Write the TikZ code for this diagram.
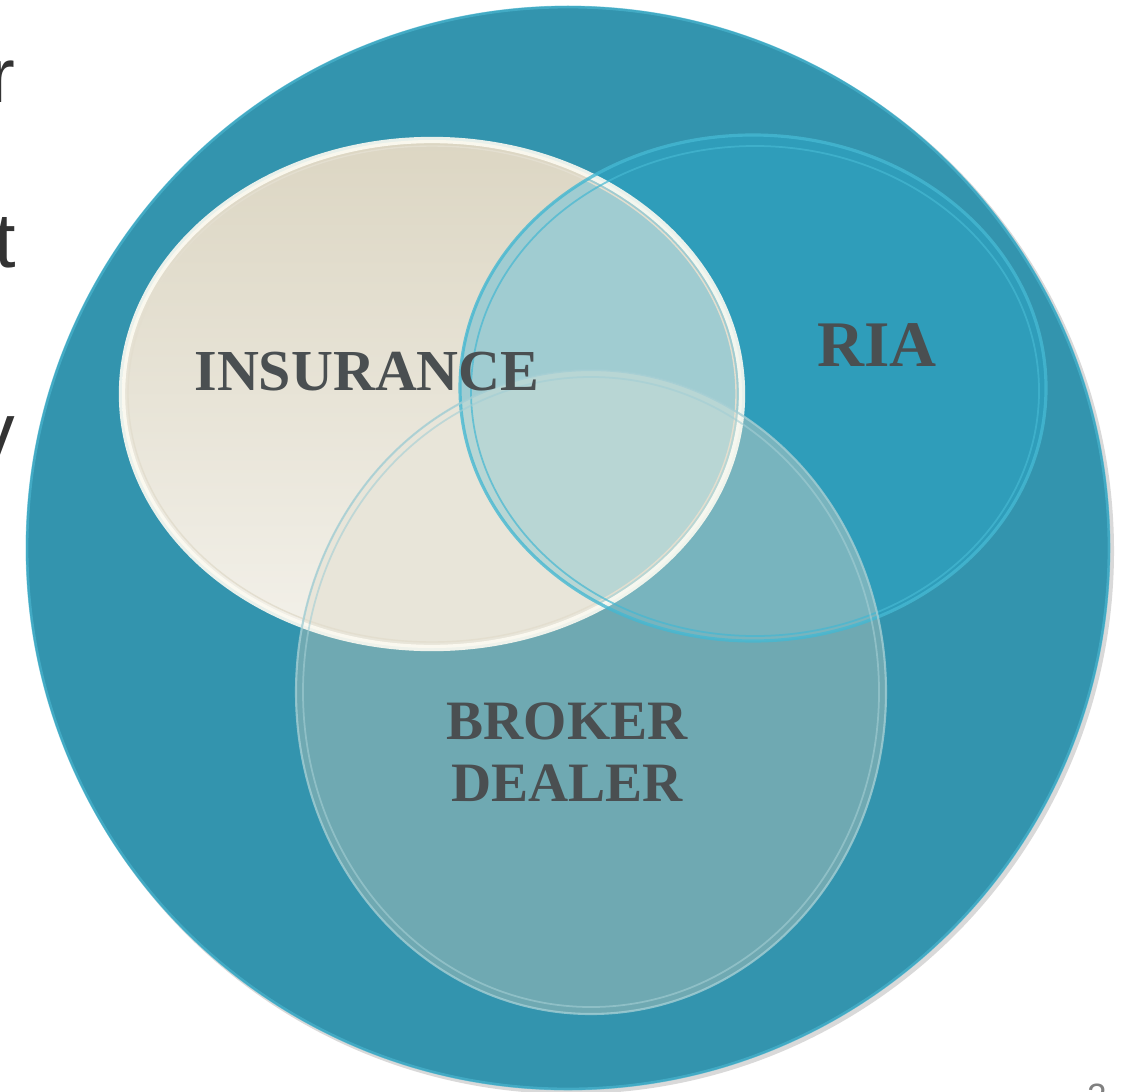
\documentclass[tikz,border=0pt]{standalone}
\usepackage{fontspec}
\setmainfont{Liberation Serif}
\setsansfont{Liberation Sans}
\usetikzlibrary{positioning}
\definecolor{bigteal}{HTML}{3394AE}
\definecolor{rimteal}{HTML}{4DB9D3}
\definecolor{riablue}{HTML}{2F9DBA}
\definecolor{riaedge}{HTML}{45B8D2}
\definecolor{instop}{HTML}{DCD6C3}
\definecolor{insbot}{HTML}{F3F1EA}
\definecolor{insrim}{HTML}{FDFBF2}
\definecolor{insria}{HTML}{A0CCD1}
\definecolor{brkteal}{HTML}{6FA9B2}
\definecolor{brkins}{HTML}{E8E5D9}
\definecolor{brkria}{HTML}{78B4BE}
\definecolor{brkall}{HTML}{B8D6D4}
\definecolor{brkedge}{HTML}{A3CED4}
\definecolor{labgray}{HTML}{4A4F51}
\definecolor{slidegray}{HTML}{333333}
\tikzset{lbl/.style={font=\bfseries\fontsize{16.5}{17.6}\selectfont,text=labgray,align=center,inner sep=0pt},
  bigLbl/.style={lbl,font=\bfseries\fontsize{18.5}{20}\selectfont},
  cut/.style={font=\sffamily\fontsize{22}{26}\selectfont,text=slidegray,inner sep=0pt,anchor=base east}}
% the three sets, in pixel units (1px = 0.01cm, about 0.28pt)
\newcommand\insurancepath{(432,394) ellipse [x radius=310, y radius=254]}
\newcommand\riapath{(753,388) ellipse [x radius=293, y radius=253]}
\newcommand\brokerpath{(591,692) ellipse [x radius=295, y radius=322]}
\begin{document}
\begin{tikzpicture}[x=0.01cm,y=-0.01cm]
\useasboundingbox (0,0) rectangle (1128,1091);
% big disc with a soft shadow
\fill[black,opacity=.15] (571,551) circle [radius=543];
\fill[bigteal] (568,548) circle [radius=542];
\draw[rimteal,opacity=.6,line width=.8pt] (568,548) circle [radius=541];
% insurance
\shade[top color=instop,bottom color=insbot] \insurancepath;
% ria and its overlap with insurance
\fill[riablue] \riapath;
\begin{scope}
\clip \insurancepath;
\fill[insria] \riapath;
\end{scope}
% broker dealer, piece by piece
\fill[brkteal] \brokerpath;
\begin{scope}
\clip \brokerpath;
\fill[brkria] \riapath;
\fill[brkins] \insurancepath;
\clip \insurancepath;
\fill[brkall] \riapath;
\end{scope}
% rims
\draw[insrim,opacity=.9,line width=1.8pt] \insurancepath;
\draw[instop!80!white,line width=.4pt] (432,394) ellipse [x radius=304, y radius=248];
\draw[riaedge,opacity=.8,line width=.9pt] \riapath;
\draw[riaedge,opacity=.7,line width=.5pt] (755,391) ellipse [x radius=284, y radius=245];
\draw[brkedge,opacity=.8,line width=.6pt] \brokerpath;
\draw[brkedge,opacity=.6,line width=.5pt] (591,692) ellipse [x radius=288, y radius=315];
% labels
\node[lbl,anchor=base] (ins) at (367,390) {INSURANCE};
\node[bigLbl,anchor=base] (ria) at (877,366) {RIA};
\node[lbl,font=\bfseries\fontsize{15.8}{17.6}\selectfont] (bd) at (567,752) {BROKER\\DEALER};
% slide text running in from the left
\node[cut] (w1) at (16,103) {r};
\node[cut] (w2) at (17,267) {t};
\node[cut] (w3) at (16,457) {v};
\node[font=\sffamily\fontsize{10}{12}\selectfont,text=gray,inner sep=0pt,anchor=north] (pg) at (1097,1083) {2};
\end{tikzpicture}
\end{document}
